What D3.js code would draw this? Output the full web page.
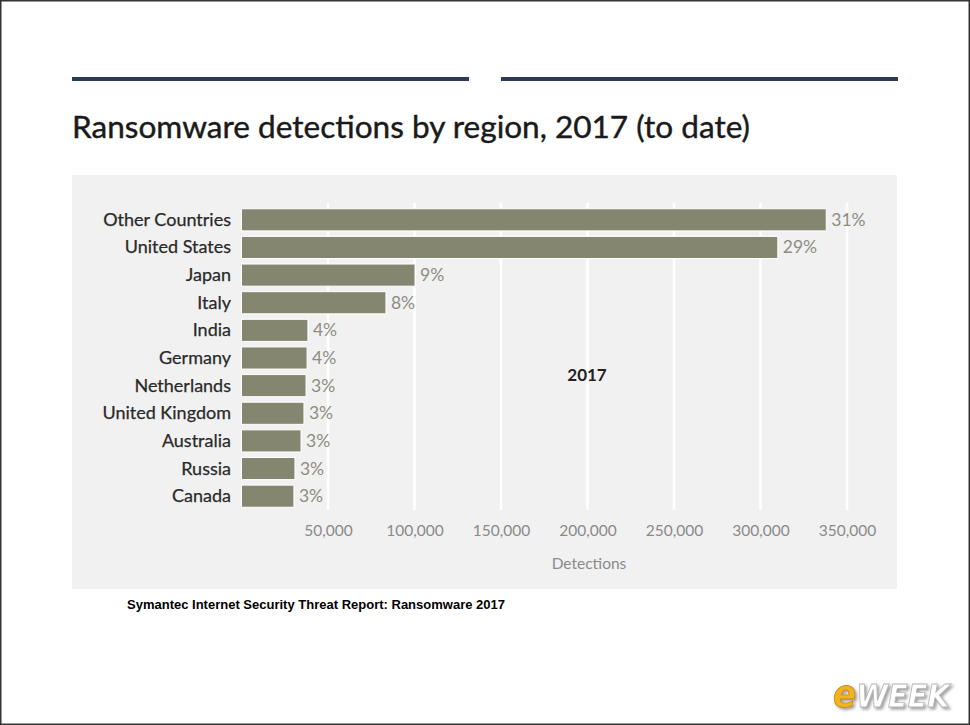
<!DOCTYPE html>
<html><head><meta charset="utf-8">
<script src="https://cdn.jsdelivr.net/npm/d3@7/dist/d3.min.js"></script>
<style>
html,body{margin:0;padding:0;background:#fff;}
svg{display:block;}
</style></head>
<body>
<svg id="chart" width="970" height="725"></svg>
<script>
const categories = ["Other Countries","United States","Japan","Italy","India","Germany","Netherlands","United Kingdom","Australia","Russia","Canada"];
const detections = [338000,310000,100300,83500,38400,37900,37300,36100,34400,30900,30300];
const percentLabels = ["31%","29%","9%","8%","4%","4%","3%","3%","3%","3%","3%"];
const tickValues = [50000,100000,150000,200000,250000,300000,350000];
const titleText = "Ransomware detections by region, 2017 (to date)";
const seriesName = "2017";
const axisTitle = "Detections";
const sourceText = "Symantec Internet Security Threat Report: Ransomware 2017";

const svg = d3.select("#chart");
const font = "Lato, 'Open Sans', sans-serif";

const defs = svg.append("defs");
const f = defs.append("filter").attr("id","shadow").attr("x","-20%").attr("y","-20%").attr("width","140%").attr("height","160%");
f.append("feDropShadow").attr("dx",2).attr("dy",2).attr("stdDeviation",1.5).attr("flood-color","#777").attr("flood-opacity",0.7);

// outer border
svg.append("rect").attr("x",0.75).attr("y",0.75).attr("width",968.5).attr("height",723.5)
  .attr("fill","#fff").attr("stroke","#333").attr("stroke-width",1.5);

// top rules
svg.append("rect").attr("x",72).attr("y",77).attr("width",397).attr("height",4).attr("fill","#2c3b55");
svg.append("rect").attr("x",501).attr("y",77).attr("width",397).attr("height",4).attr("fill","#2c3b55");

// title
svg.append("text").attr("x",72).attr("y",138).attr("font-family",font).attr("font-size",30)
  .attr("fill","#1a1a1a").attr("stroke","#1a1a1a").attr("stroke-width",0.4)
  .attr("textLength",678).attr("lengthAdjust","spacingAndGlyphs").text(titleText);

// panel
svg.append("rect").attr("x",72).attr("y",175).attr("width",825).attr("height",414).attr("fill","#f1f1f1");

const x = d3.scaleLinear().domain([0,350000]).range([241.5,847]);
const y = d3.scaleBand().domain(categories).range([206,510]).paddingInner(0.2).paddingOuter(0.1);

// gridlines
const grid = svg.append("g");
grid.selectAll("line").data(tickValues).join("line")
  .attr("x1",d=>x(d)).attr("x2",d=>x(d)).attr("y1",203).attr("y2",510)
  .attr("stroke","#ffffff").attr("stroke-width",2.5);

// axis
const axis = d3.axisBottom(x).tickValues(tickValues).tickSize(0).tickPadding(0).tickFormat(d3.format(","));
const ag = svg.append("g").attr("transform","translate(0,536)").call(axis);
ag.select(".domain").remove();
ag.selectAll("text").attr("font-family",font).attr("font-size",15.5).attr("fill","#8a8a8a").attr("dy",0);

// axis title
svg.append("text").attr("x",589).attr("y",569).attr("text-anchor","middle").attr("font-family",font)
  .attr("font-size",15.5).attr("fill","#8a8a8a").text(axisTitle);

// bars
svg.append("g").selectAll("rect").data(categories).join("rect")
  .attr("x",x(0)).attr("y",d=>y(d)).attr("width",(d,i)=>x(detections[i])-x(0)).attr("height",y.bandwidth())
  .attr("fill","#848670").attr("stroke","#ffffff").attr("stroke-width",1);

// category labels
svg.append("g").selectAll("text").data(categories).join("text")
  .attr("x",231).attr("y",d=>y(d)+y.bandwidth()/2+6).attr("text-anchor","end")
  .attr("font-family",font).attr("font-size",18).attr("fill","#2a2a2a").attr("stroke","#2a2a2a").attr("stroke-width",0.25).text(d=>d);

// value labels
svg.append("g").selectAll("text").data(categories).join("text")
  .attr("x",(d,i)=>x(detections[i])+5).attr("y",d=>y(d)+y.bandwidth()/2+6)
  .attr("font-family",font).attr("font-size",17.5).attr("fill","#8c8d80").text((d,i)=>percentLabels[i]);

// series label
svg.append("text").attr("x",587).attr("y",381).attr("text-anchor","middle").attr("font-family",font)
  .attr("font-size",17).attr("font-weight","bold").attr("fill","#222").text(seriesName);

// source
svg.append("text").attr("x",127).attr("y",609).attr("font-family","'Liberation Sans', Arial, sans-serif")
  .attr("font-size",12.5).attr("font-weight","bold").attr("fill","#000")
  .attr("textLength",378).attr("lengthAdjust","spacingAndGlyphs").text(sourceText);

// eWEEK logo
const logo = svg.append("g").attr("transform","translate(833,707)").attr("filter","url(#shadow)");
const logoText = logo.append("text").attr("font-family","'DejaVu Sans Condensed','DejaVu Sans', sans-serif")
  .attr("font-weight","bold").attr("font-style","italic");
logoText.append("tspan").attr("font-size",38).attr("fill","#f0b41c").attr("stroke","#c98a10").attr("stroke-width",0.8).text("e");
logoText.append("tspan").attr("font-size",32).attr("fill","#ffffff").attr("stroke","#b5b5b5").attr("stroke-width",0.8).text("WEEK");
</script>
</body></html>
